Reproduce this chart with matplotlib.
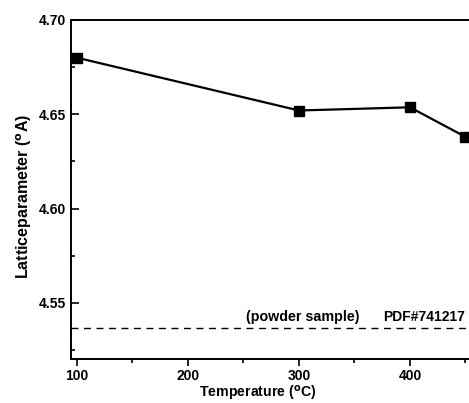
import matplotlib
matplotlib.use('Agg')
import matplotlib.pyplot as plt
from matplotlib.ticker import MultipleLocator

# data
temp = [100, 300, 400, 450]
lattice = [4.680, 4.652, 4.6537, 4.638]
pdf_ref = 4.5367
x_ticks = [100, 200, 300, 400]
y_ticks = [4.55, 4.60, 4.65, 4.70]

plt.rcParams['font.family'] = ['Liberation Sans', 'DejaVu Sans']
plt.rcParams['font.weight'] = 'bold'

fig = plt.figure(figsize=(4.69, 4.03), dpi=100)
# axes runs off the right edge like in the original
ax = fig.add_axes([71/469, 44/403, 450/469, 339/403])

ax.plot(temp, lattice, color='black', lw=1.6, marker='s', ms=6.5, zorder=3)
ax.axhline(pdf_ref, color='black', lw=1.0, ls=(0, (5, 4)))
ax.text(252, 4.5425, '(powder sample)', fontsize=10.3, va='center')
ax.text(376, 4.5425, 'PDF#741217', fontsize=10, va='center')

ax.set_xlim(94.6, 500)
ax.set_ylim(4.5202, 4.70)
ax.set_xticks(x_ticks)
ax.set_yticks(y_ticks)
ax.set_yticklabels(['%.2f' % v for v in y_ticks])
ax.xaxis.set_minor_locator(MultipleLocator(50))
ax.yaxis.set_minor_locator(MultipleLocator(0.025))
ax.tick_params(axis='x', which='both', direction='out', labelsize=10, width=1.2, pad=2.5)
ax.tick_params(axis='x', which='major', length=5)
ax.tick_params(axis='x', which='minor', length=3)
ax.tick_params(axis='y', which='both', direction='in', labelsize=10, width=1.2)
ax.tick_params(axis='y', which='major', length=6)
ax.tick_params(axis='y', which='minor', length=3)
for s in ax.spines.values():
    s.set_linewidth(1.4)

ax.set_xlabel('Temperature ($^{\\rm o}$C)', fontsize=10.2, fontweight='bold')
ax.xaxis.set_label_coords(0.4156, -0.101)
ax.xaxis.label.set_va('center')
ax.set_ylabel('Latticeparameter ($^{\\rm o}$A)', fontsize=11.5, fontweight='bold')
ax.yaxis.set_label_coords(-0.104, 0.48)
ax.yaxis.label.set_va('center')

fig.savefig('out.png', dpi=100)
